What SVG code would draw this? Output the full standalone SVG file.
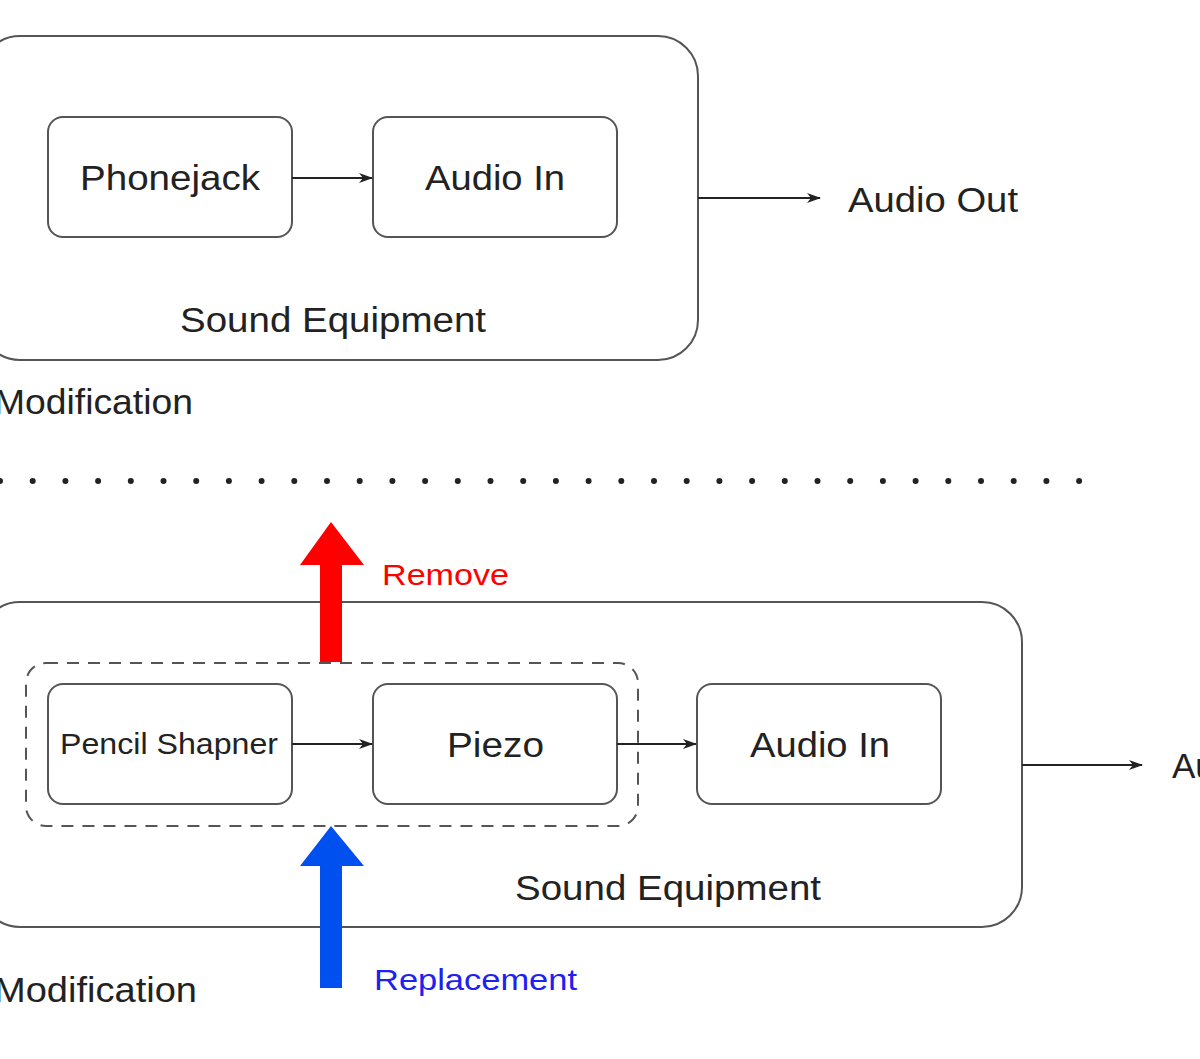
<svg xmlns="http://www.w3.org/2000/svg" width="1200" height="1059" viewBox="0 0 1200 1059">
<style>
.b{fill:#fff;stroke:#555;stroke-width:2}
.t{font-family:"Liberation Sans",Arial,sans-serif;font-size:35px;fill:#222}
.l{stroke:#222;stroke-width:2;fill:none}
</style>
<defs><marker id="a" markerWidth="14" markerHeight="14" refX="13" refY="7" orient="auto" markerUnits="userSpaceOnUse"><path d="M0,2 L14,7 L0,12 L4,7 Z" fill="#222"/></marker></defs>
<rect width="1200" height="1059" fill="#fff"/>
<g id="top">
<rect class="b" x="-20" y="36" width="718" height="324" rx="40"/>
<text class="t" x="180" y="332" textLength="306" lengthAdjust="spacingAndGlyphs">Sound Equipment</text>
<text class="t" x="-6" y="414" textLength="199" lengthAdjust="spacingAndGlyphs">Modification</text>
</g>
<g id="phonejack"><rect class="b" x="48" y="117" width="244" height="120" rx="15"/><text class="t" x="80" y="190" textLength="180" lengthAdjust="spacingAndGlyphs">Phonejack</text></g>
<g id="audioin1"><rect class="b" x="373" y="117" width="244" height="120" rx="15"/><text class="t" x="425" y="190" textLength="140" lengthAdjust="spacingAndGlyphs">Audio In</text></g>
<text class="t" x="848" y="212" textLength="170" lengthAdjust="spacingAndGlyphs">Audio Out</text>
<line x1="0" y1="481" x2="1084" y2="481" stroke="#222" stroke-width="6" stroke-linecap="round" stroke-dasharray="0 32.7"/>
<g id="bottom">
<rect class="b" x="-20" y="602" width="1042" height="325" rx="40"/>
<rect x="26" y="663" width="612" height="163" rx="20" fill="none" stroke="#555" stroke-width="2" stroke-dasharray="12 9"/>
<text class="t" x="515" y="900" textLength="306" lengthAdjust="spacingAndGlyphs">Sound Equipment</text>
<text class="t" x="-6" y="1002" textLength="203" lengthAdjust="spacingAndGlyphs">Modification</text>
</g>
<g id="pencil"><rect class="b" x="48" y="684" width="244" height="120" rx="15"/><text class="t" x="60" y="754" style="font-size:30px" textLength="218" lengthAdjust="spacingAndGlyphs">Pencil Shapner</text></g>
<g id="piezo"><rect class="b" x="373" y="684" width="244" height="120" rx="15"/><text class="t" x="447" y="757" textLength="97" lengthAdjust="spacingAndGlyphs">Piezo</text></g>
<g id="audioin2"><rect class="b" x="697" y="684" width="244" height="120" rx="15"/><text class="t" x="750" y="757" textLength="140" lengthAdjust="spacingAndGlyphs">Audio In</text></g>
<text class="t" x="1172" y="778">Audio Out</text>
<g id="connectors">
<line class="l" x1="292" y1="178" x2="372" y2="178" marker-end="url(#a)"/>
<line class="l" x1="698" y1="198" x2="820" y2="198" marker-end="url(#a)"/>
<line class="l" x1="292" y1="744" x2="372" y2="744" marker-end="url(#a)"/>
<line class="l" x1="617" y1="744" x2="696" y2="744" marker-end="url(#a)"/>
<line class="l" x1="1022" y1="765" x2="1142" y2="765" marker-end="url(#a)"/>
<path d="M320,662 L320,565 L300,565 L331,522 L364,565 L342,565 L342,662 Z" fill="#f00"/>
<path d="M320,988 L320,866 L300,866 L331,826 L364,866 L342,866 L342,988 Z" fill="#0050f0"/>
</g>
<text x="382" y="585" font-family="Liberation Sans,Arial,sans-serif" font-size="29" fill="#f00" textLength="127" lengthAdjust="spacingAndGlyphs">Remove</text>
<text x="374" y="990" font-family="Liberation Sans,Arial,sans-serif" font-size="29" fill="#2020f0" textLength="203" lengthAdjust="spacingAndGlyphs">Replacement</text>
</svg>
